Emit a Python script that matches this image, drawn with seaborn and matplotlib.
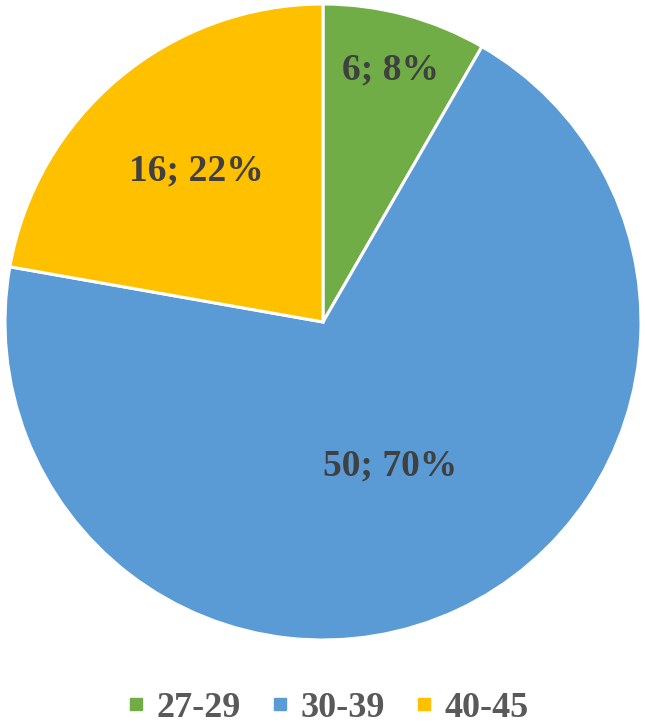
import matplotlib
matplotlib.use("Agg")
import matplotlib.pyplot as plt
import seaborn as sns
import numpy as np
from matplotlib.lines import Line2D

sns.set_theme(style="white")
plt.rcParams['font.family'] = ['Liberation Serif', 'DejaVu Serif']

categories = ["27-29", "30-39", "40-45"]
counts = [6, 50, 16]
percents = [8, 70, 22]
colors = ["#70AD47", "#5B9BD5", "#FFC000"]

fig = plt.figure(figsize=(6.45, 7.25), dpi=100)
W, H = 645, 725
cx, cy, r = 323, 322, 318
ax = fig.add_axes([(cx - r) / W, (H - cy - r) / H, 2 * r / W, 2 * r / H])

wedges, _ = ax.pie(counts, colors=colors, startangle=90, counterclock=False,
                   radius=1.0, wedgeprops=dict(edgecolor="white", linewidth=2.2))
ax.set_aspect("equal")
ax.set_xlim(-1, 1)
ax.set_ylim(-1, 1)
ax.axis("off")

label_dist = [0.82, 0.50, 0.62]
for w, c, p, d in zip(wedges, counts, percents, label_dist):
    ang = np.deg2rad((w.theta1 + w.theta2) / 2)
    ax.text(d * np.cos(ang), d * np.sin(ang), f"{c}; {p}%", ha="center", va="center",
            fontsize=27, fontweight="bold", color="#404040")

handles = [Line2D([0], [0], marker="s", linestyle="", markersize=9,
                  markerfacecolor=col, markeredgecolor=col) for col in colors]
fig.legend(handles, categories, loc="center", bbox_to_anchor=(0.507, 1 - 708 / H),
           ncol=3, frameon=False, handletextpad=0.25, columnspacing=0.8,
           handlelength=0.6, prop=dict(size=26, weight="bold"), labelcolor="#595959")

fig.savefig("out.png", dpi=100)
